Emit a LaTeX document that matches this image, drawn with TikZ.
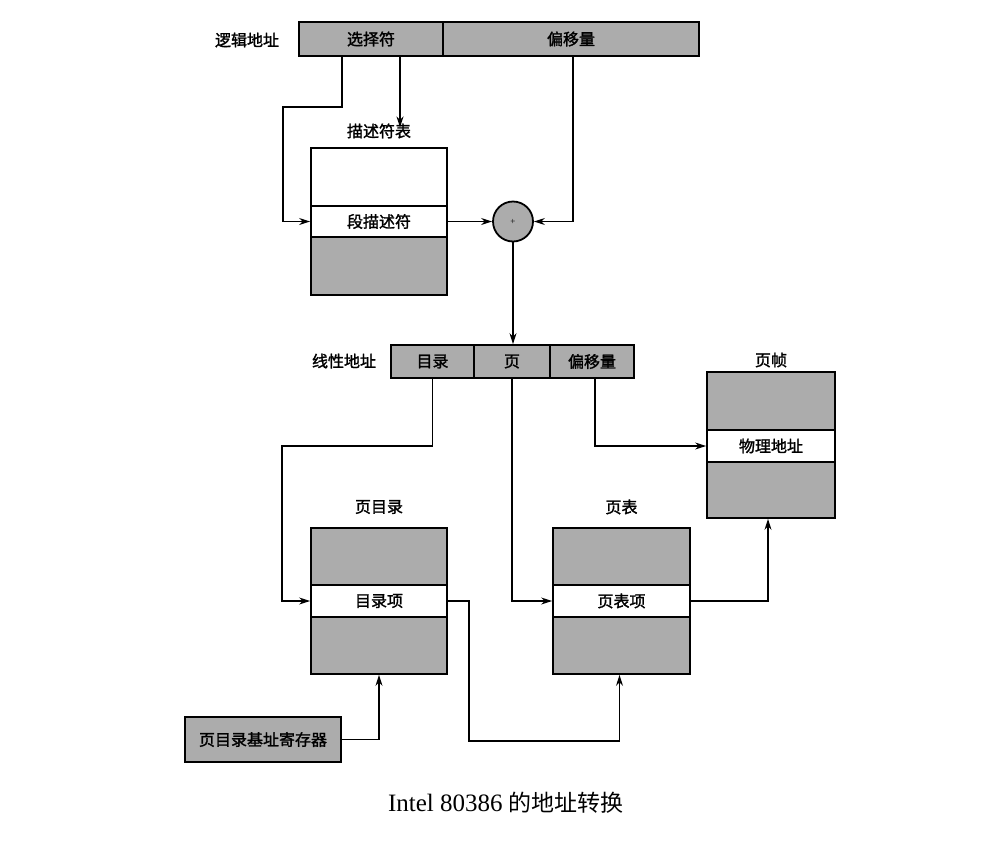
\documentclass[tikz,border=0pt]{standalone}
\usepackage{fontspec}
\setmainfont{Liberation Serif}
\newfontfamily\cjk{Noto Sans CJK SC}[FakeBold=1.6]
\newfontfamily\cjkcap{Noto Sans CJK SC}
\usetikzlibrary{arrows.meta}
\definecolor{boxgray}{RGB}{172,172,172}
\begin{document}
\begin{tikzpicture}[x=1pt,y=-1pt,
  fld/.style={draw=black,line width=1.8pt,fill=boxgray,inner sep=0pt,font=\cjk\fontsize{16}{19}\selectfont},
  wfld/.style={fld,fill=white},
  lab/.style={inner sep=0pt,font=\cjk\fontsize{16}{19}\selectfont},
  arr/.style={line width=1.3pt,-{Stealth[length=11pt,width=7pt]}},
  ln/.style={line width=1.3pt}]
\useasboundingbox (0,0) rectangle (1005,852);
% logical address
\node[fld,minimum width=144pt,minimum height=34pt] (sel) at (371,39) {选择符};
\node[fld,minimum width=256pt,minimum height=34pt] (off) at (571,39) {偏移量};
\node[lab] (lalab) at (247,40) {逻辑地址};
% descriptor table
\node[lab] (dtlab) at (379,131) {描述符表};
\node[wfld,minimum width=136pt,minimum height=58pt] (dttop) at (379,177) {};
\node[wfld,minimum width=136pt,minimum height=31pt] (dtrow) at (379,221.5) {段描述符};
\node[fld,minimum width=136pt,minimum height=58pt] (dtbot) at (379,266) {};
% adder
\node[circle,draw=black,line width=1.8pt,fill=boxgray,minimum size=40pt,inner sep=0pt,font=\fontsize{9}{10}\selectfont] (circ) at (513,221.5) {+};
% linear address
\node[fld,minimum width=83pt,minimum height=33pt] (ldir) at (432.5,361.5) {目录};
\node[fld,minimum width=76pt,minimum height=33pt] (lpage) at (512,361.5) {页};
\node[fld,minimum width=84pt,minimum height=33pt] (loff) at (592,361.5) {偏移量};
\node[lab] (lilab) at (344,361) {线性地址};
% page frame
\node[lab] (pflab) at (771,360) {页帧};
\node[fld,minimum width=128pt,minimum height=58pt] (pftop) at (771,401) {};
\node[wfld,minimum width=128pt,minimum height=32pt] (pfrow) at (771,446) {物理地址};
\node[fld,minimum width=128pt,minimum height=56pt] (pfbot) at (771,490) {};
% page directory
\node[lab] (pdlab) at (379,507) {页目录};
\node[fld,minimum width=136pt,minimum height=57pt] (pdtop) at (379,556.5) {};
\node[wfld,minimum width=136pt,minimum height=32pt] (pdrow) at (379,601) {目录项};
\node[fld,minimum width=136pt,minimum height=57pt] (pdbot) at (379,645.5) {};
% page table
\node[lab] (ptlab) at (621.5,507) {页表};
\node[fld,minimum width=137pt,minimum height=57pt] (pttop) at (621.5,556.5) {};
\node[wfld,minimum width=137pt,minimum height=32pt] (ptrow) at (621.5,601) {页表项};
\node[fld,minimum width=137pt,minimum height=57pt] (ptbot) at (621.5,645.5) {};
% register
\node[fld,minimum width=156pt,minimum height=45pt] (reg) at (263,739.5) {页目录基址寄存器};
% caption
\node[inner sep=0pt,font=\fontsize{25}{28}\selectfont] (cap) at (506,803) {Intel 80386 {\cjkcap\fontsize{23}{28}\selectfont 的地址转换}};
% connectors
\draw[arr] ([xshift=-29pt]sel.south) -- ++(0,50) -| ([xshift=-27pt]dtrow.west) -- (dtrow.west);
\draw[arr] ([xshift=29pt]sel.south) -- ([xshift=29pt,yshift=-4pt]sel.south |- dtlab.north);
\draw[arr] ([xshift=2pt]off.south) |- (circ.east);
\draw[arr] (dtrow.east) -- (circ.west);
\draw[arr] (circ.south) -- (circ.south |- lpage.north);
\draw[arr] (ldir.south) -- ++(0,67) -| ([xshift=-28pt]pdrow.west) -- (pdrow.west);
\draw[arr] (lpage.south) |- (ptrow.west);
\draw[arr] ([xshift=3pt]loff.south) |- (pfrow.west);
\draw[arr] (ptrow.east) -| ([xshift=-3pt]pfbot.south);
\draw[arr] (pdrow.east) -- ++(21,0) -- ++(0,140) -| ([xshift=-2pt]ptbot.south);
\draw[arr] (reg.east) -| (pdbot.south);
\end{tikzpicture}
\end{document}
